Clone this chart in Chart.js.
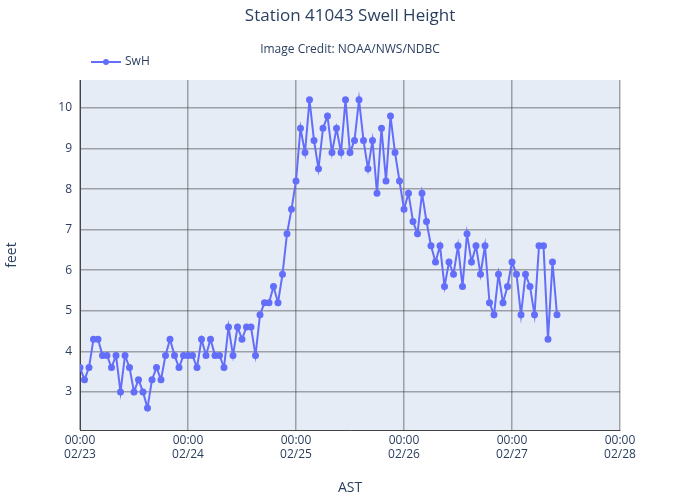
<!DOCTYPE html>
<html>
<head>
<meta charset="utf-8">
<script src="https://cdn.jsdelivr.net/npm/chart.js@4"></script>
<style>
  body { margin: 0; background: #fff; }
  #wrap { width: 700px; height: 500px; }
</style>
</head>
<body>
<div id="wrap"><canvas id="swell-chart"></canvas></div>
<script>
// hourly swell height readings (feet), starting 02/23 00:00 AST
const day1 = [3.6,3.3,3.6,4.3,4.3,3.9,3.9,3.6,3.9,3.0,3.9,3.6,3.0,3.3,3.0,2.6,3.3,3.6,3.3,3.9,4.3,3.9,3.6,3.9];
const day2 = [3.9,3.9,3.6,4.3,3.9,4.3,3.9,3.9,3.6,4.6,3.9,4.6,4.3,4.6,4.6,3.9,4.9,5.2,5.2,5.6,5.2,5.9,6.9,7.5];
const day3 = [8.2,9.5,8.9,10.2,9.2,8.5,9.5,9.8,8.9,9.5,8.9,10.2,8.9,9.2,10.2,9.2,8.5,9.2,7.9,9.5,8.2,9.8,8.9,8.2];
const day4 = [7.5,7.9,7.2,6.9,7.9,7.2,6.6,6.2,6.6,5.6,6.2,5.9,6.6,5.6,6.9,6.2,6.6,5.9,6.6,5.2,4.9,5.9,5.2,5.6];
const day5 = [6.2,5.9,4.9,5.9,5.6,4.9,6.6,6.6,4.3,6.2,4.9];
const swh = [...day1, ...day2, ...day3, ...day4, ...day5];
const dayTicks = [0, 24, 48, 72, 96, 120];
const dayLabels = [['00:00','02/23'],['00:00','02/24'],['00:00','02/25'],['00:00','02/26'],['00:00','02/27'],['00:00','02/28']];

const textColor = '#2a3f5f';
const lineColor = '#636efa';
const font = '"Open Sans", "Noto Sans", sans-serif';

const decor = {
  id: 'decor',
  beforeDraw(chart) {
    const {ctx, chartArea: a} = chart;
    ctx.save();
    ctx.fillStyle = '#e5ecf6';
    ctx.fillRect(a.left, a.top, a.right - a.left, a.bottom - a.top);
    ctx.restore();
  },
  afterDraw(chart) {
    const ctx = chart.ctx;
    ctx.save();
    ctx.fillStyle = textColor;
    ctx.textAlign = 'center';
    ctx.textBaseline = 'middle';
    ctx.font = '17px ' + font;
    ctx.fillText('Station 41043 Swell Height', 350, 16);
    ctx.font = '12px ' + font;
    ctx.fillText('Image Credit: NOAA/NWS/NDBC', 350, 50);
    // legend
    ctx.strokeStyle = lineColor;
    ctx.fillStyle = lineColor;
    ctx.lineWidth = 2;
    ctx.beginPath(); ctx.moveTo(91, 62); ctx.lineTo(121, 62); ctx.stroke();
    ctx.beginPath(); ctx.arc(106, 62, 3, 0, Math.PI * 2); ctx.fill();
    ctx.fillStyle = textColor;
    ctx.textAlign = 'left';
    ctx.font = '12px ' + font;
    ctx.fillText('SwH', 125, 62);
    ctx.restore();
  }
};

new Chart(document.getElementById('swell-chart').getContext('2d'), {
  type: 'line',
  data: {
    datasets: [{
      label: 'SwH',
      data: swh.map((v, i) => ({x: i, y: v})),
      borderColor: lineColor,
      backgroundColor: lineColor,
      borderWidth: 2,
      pointRadius: 2.5,
      tension: 0
    }]
  },
  options: {
    responsive: true,
    maintainAspectRatio: false,
    animation: false,
    layout: {padding: {top: 80, right: 80, left: 0, bottom: 0}},
    plugins: {legend: {display: false}, tooltip: {enabled: false}},
    scales: {
      x: {
        type: 'linear',
        min: 0, max: 120,
        afterBuildTicks: s => { s.ticks = dayTicks.map(v => ({value: v})); },
        afterFit: s => { s.height = 70; },
        ticks: {
          color: textColor, font: {family: font, size: 12}, maxRotation: 0,
          callback: v => dayLabels[dayTicks.indexOf(v)]
        },
        grid: {color: 'rgba(68,68,68,0.45)', lineWidth: 1.5, drawTicks: false},
        border: {color: '#444', width: 1},
        title: {display: true, text: 'AST', color: textColor, font: {family: font, size: 14}}
      },
      y: {
        min: 2.06, max: 10.69,
        afterBuildTicks: s => { s.ticks = [3,4,5,6,7,8,9,10].map(v => ({value: v})); },
        afterFit: s => { s.width = 80; },
        ticks: {color: textColor, font: {family: font, size: 12}, padding: 8},
        grid: {color: 'rgba(68,68,68,0.45)', lineWidth: 1.5, drawTicks: false},
        border: {color: '#444', width: 1},
        title: {display: true, text: 'feet', color: textColor, font: {family: font, size: 14}}
      }
    }
  },
  plugins: [decor]
});
</script>
</body>
</html>
